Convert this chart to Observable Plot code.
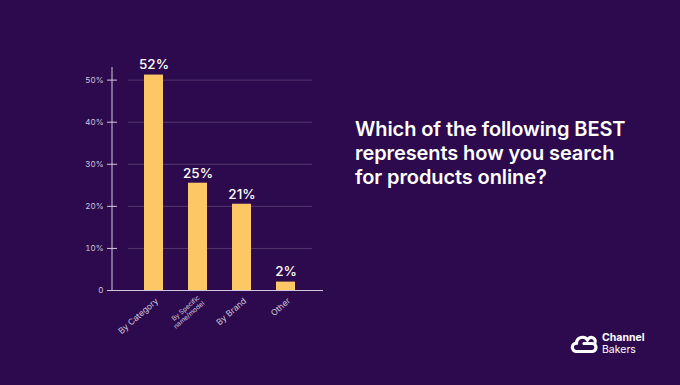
<!DOCTYPE html>
<html>
<head>
<meta charset="utf-8">
<script src="https://cdn.jsdelivr.net/npm/d3@7"></script>
<script src="https://cdn.jsdelivr.net/npm/@observablehq/plot@0.6"></script>
<style>
  html, body { margin: 0; padding: 0; background: #2c0a4d; }
  body { width: 680px; height: 385px; position: relative; overflow: hidden; font-family: Inter, "Noto Sans", sans-serif; }
  #chart { position: absolute; left: 0; top: 0; }
  #title { position: absolute; left: 355px; top: 117px; color: #ffffff; font-size: 20px; line-height: 24px; font-weight: 600; letter-spacing: -0.1px; }
  #logo { position: absolute; left: 570px; top: 330px; }
</style>
</head>
<body>
<div id="chart"></div>
<div id="title">Which of the following BEST<br>represents how you search<br>for products online?</div>
<svg id="logo" width="100" height="30" viewBox="0 0 100 30">
  <path d="M12 21.5 H6.5 A4.2 4.2 0 0 1 6.5 13.1 A6 6 0 0 1 17.5 10" fill="none" stroke="#fff" stroke-width="3.2" stroke-linecap="round"/>
  <path d="M14 13.5 H22 A4 4 0 0 1 22 21.5 H12" fill="none" stroke="#fff" stroke-width="3.2" stroke-linecap="round"/>
  <path d="M17.5 10 A4 4 0 0 1 25 13" fill="none" stroke="#fff" stroke-width="3.2" stroke-linecap="round"/>
  <text x="32" y="11" fill="#fff" font-family="Inter, sans-serif" font-weight="700" font-size="10.5">Channel</text>
  <text x="32" y="22.5" fill="#fff" font-family="Inter, sans-serif" font-weight="400" font-size="10.5">Bakers</text>
</svg>
<script>
const categories = ["By Category", "By Specific\nname/model", "By Brand", "Other"];
const values = [51.2, 25.5, 20.5, 2];
const valueLabels = ["52%", "25%", "21%", "2%"];
const categoryFontSizes = [8.5, 6.5, 8.5, 8.5];
const yTicks = [0, 10, 20, 30, 40, 50];
const yMax = 53;

const data = categories.map((c, i) => ({
  category: c, value: values[i], label: valueLabels[i], fs: categoryFontSizes[i]
}));

const axisColor = "#d2c8de";
const gridColor = "#54386f";

// vertical y-axis line drawn from the y scale
function yAxisLine(index, scales, values, dimensions) {
  const g = d3.create("svg:g");
  const x = dimensions.marginLeft;
  g.append("line")
    .attr("x1", x).attr("x2", x)
    .attr("y1", scales.y(yMax)).attr("y2", scales.y(0))
    .attr("stroke", axisColor).attr("stroke-width", 1);
  return g.node();
}

const chart = Plot.plot({
  width: 680,
  height: 385,
  marginTop: 67,
  marginBottom: 95,
  marginLeft: 112,
  marginRight: 357,
  style: { background: "transparent", fontFamily: "Inter, 'Noto Sans', sans-serif" },
  x: { domain: categories, range: [118, 321], padding: 0.57, axis: null },
  y: { domain: [0, yMax], axis: null },
  marks: [
    Plot.ruleY(yTicks.filter(d => d > 0), { stroke: gridColor, strokeWidth: 1, insetLeft: 16, insetRight: 11 }),
    yAxisLine,
    Plot.axisY({ ticks: yTicks, label: null, tickSize: 10, dx: 5, tickPadding: 4, stroke: axisColor, color: axisColor, fontSize: 8, tickFormat: d => d === 0 ? "0" : d + "%" }),
    Plot.barY(data, { x: "category", y: "value", fill: "#fdc766" }),
    Plot.ruleY([0], { stroke: axisColor, strokeWidth: 1.2, insetLeft: -5 }),
    Plot.text(data, { x: "category", y: "value", text: "label", dy: -10, fill: "#ffffff", fontSize: 13.5, fontWeight: 500 }),
    Plot.text(data, { x: "category", y: 0, text: "category", rotate: -41, textAnchor: "end", lineAnchor: "middle", dx: 3, dy: 9, fill: axisColor, fontSize: "fs", lineHeight: 1.1 })
  ]
});
document.getElementById("chart").appendChild(chart);
</script>
</body>
</html>
